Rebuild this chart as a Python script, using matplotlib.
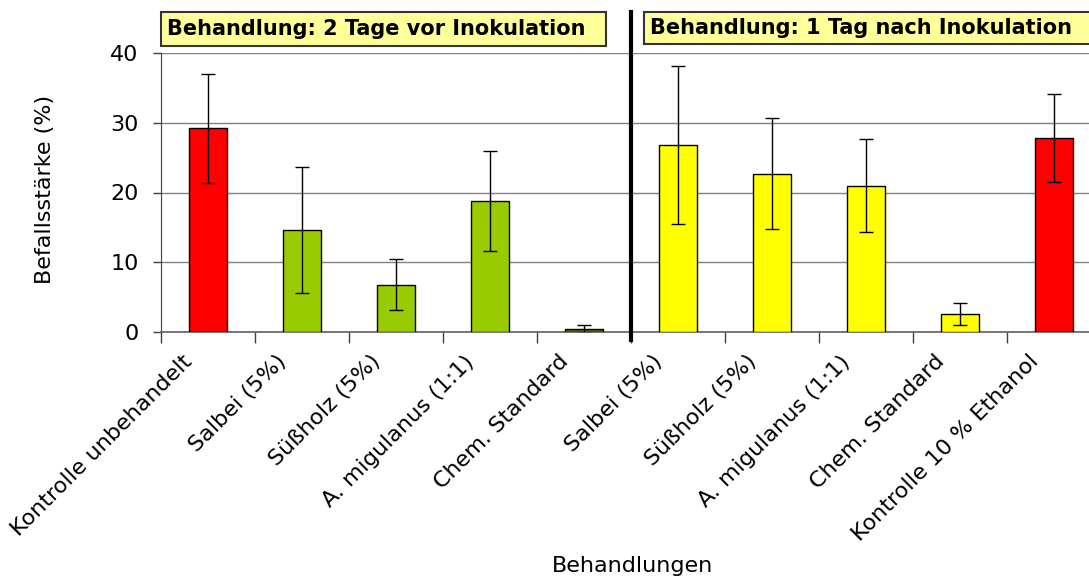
import matplotlib
matplotlib.use("Agg")
import matplotlib.pyplot as plt
from matplotlib.patches import Rectangle
import matplotlib.transforms as mtransforms

categories = ["Kontrolle unbehandelt", "Salbei (5%)", "Süßholz (5%)", "A. migulanus (1:1)",
              "Chem. Standard", "Salbei (5%)", "Süßholz (5%)", "A. migulanus (1:1)",
              "Chem. Standard", "Kontrolle 10 % Ethanol"]
values = [29.2, 14.6, 6.8, 18.8, 0.4, 26.8, 22.7, 21.0, 2.6, 27.8]
errors = [7.8, 9.0, 3.6, 7.2, 0.6, 11.3, 8.0, 6.7, 1.6, 6.3]
colors = ["#FF0000", "#99CC00", "#99CC00", "#99CC00", "#4F6B00",
          "#FFFF00", "#FFFF00", "#FFFF00", "#FFFF00", "#FF0000"]
group_titles = ["Behandlung: 2 Tage vor Inokulation", "Behandlung: 1 Tag nach Inokulation"]
y_ticks = [0, 10, 20, 30, 40]

plt.rcParams['font.family'] = ['DejaVu Sans']
FS = 16

W, H = 1089, 580
fig = plt.figure(figsize=(W / 100, H / 100), dpi=100)
ax = fig.add_axes([161 / W, 1 - 332 / H, 940 / W, 279 / H])

x = list(range(len(categories)))
ax.bar(x, values, width=0.40, color=colors, edgecolor="black", linewidth=1.0, zorder=3)
ax.errorbar(x, values, yerr=errors, fmt="none", ecolor="black", elinewidth=1.0,
            capsize=5, capthick=1.0, zorder=4)

ax.set_xlim(-0.5, len(categories) - 0.5)
ax.set_ylim(0, 40)
ax.set_yticks(y_ticks)
ax.set_yticklabels([str(t) for t in y_ticks], fontsize=FS)
ax.yaxis.grid(True, color="#808080", linewidth=1.0, zorder=0)
ax.set_axisbelow(True)

ax.set_xticks([i + 0.5 for i in range(-1, len(categories))], minor=False)
ax.set_xticklabels([])
ax.set_xticks(x, minor=True)
ax.set_xticklabels(categories, minor=True, rotation=45, ha="right", va="top",
                   rotation_mode="anchor", fontsize=FS)
ax.tick_params(axis="x", which="major", length=8, width=1, color="#404040", direction="out")
ax.tick_params(axis="x", which="minor", length=0, pad=14)
ax.tick_params(axis="y", length=6, width=1, color="#404040", pad=10)
offset = mtransforms.ScaledTranslation(-0.26, 0.0, fig.dpi_scale_trans)
for lab in ax.get_xticklabels(minor=True):
    lab.set_transform(lab.get_transform() + offset)

for s in ["top", "right"]:
    ax.spines[s].set_visible(False)
ax.spines["left"].set_color("#404040")
ax.spines["bottom"].set_color("#606060")
ax.spines["bottom"].set_linewidth(1.2)

# separator line between groups
ax.plot([4.5, 4.5], [-1.15, 45.9], color="black", linewidth=3, clip_on=False, zorder=5)

# header boxes
boxes = [(161, 606, 12, 46), (644, 1092, 12, 44)]
for (x0, x1, y0, y1), title in zip(boxes, group_titles):
    fig.patches.append(Rectangle((x0 / W, 1 - y1 / H), (x1 - x0) / W, (y1 - y0) / H,
                                 transform=fig.transFigure, facecolor="#FFFF99",
                                 edgecolor="#333333", linewidth=1.5, zorder=1))
    fig.text((x0 + 6) / W, 1 - ((y0 + y1) / 2) / H, title, fontsize=15,
             fontweight="bold", ha="left", va="center", zorder=2)

fig.text(45 / W, 1 - 189 / H, "Befallsstärke (%)", rotation=90, fontsize=FS,
         ha="center", va="center")
fig.text(633 / W, 1 - 566 / H, "Behandlungen", fontsize=FS, ha="center", va="center")

fig.savefig("out.png", dpi=100)
